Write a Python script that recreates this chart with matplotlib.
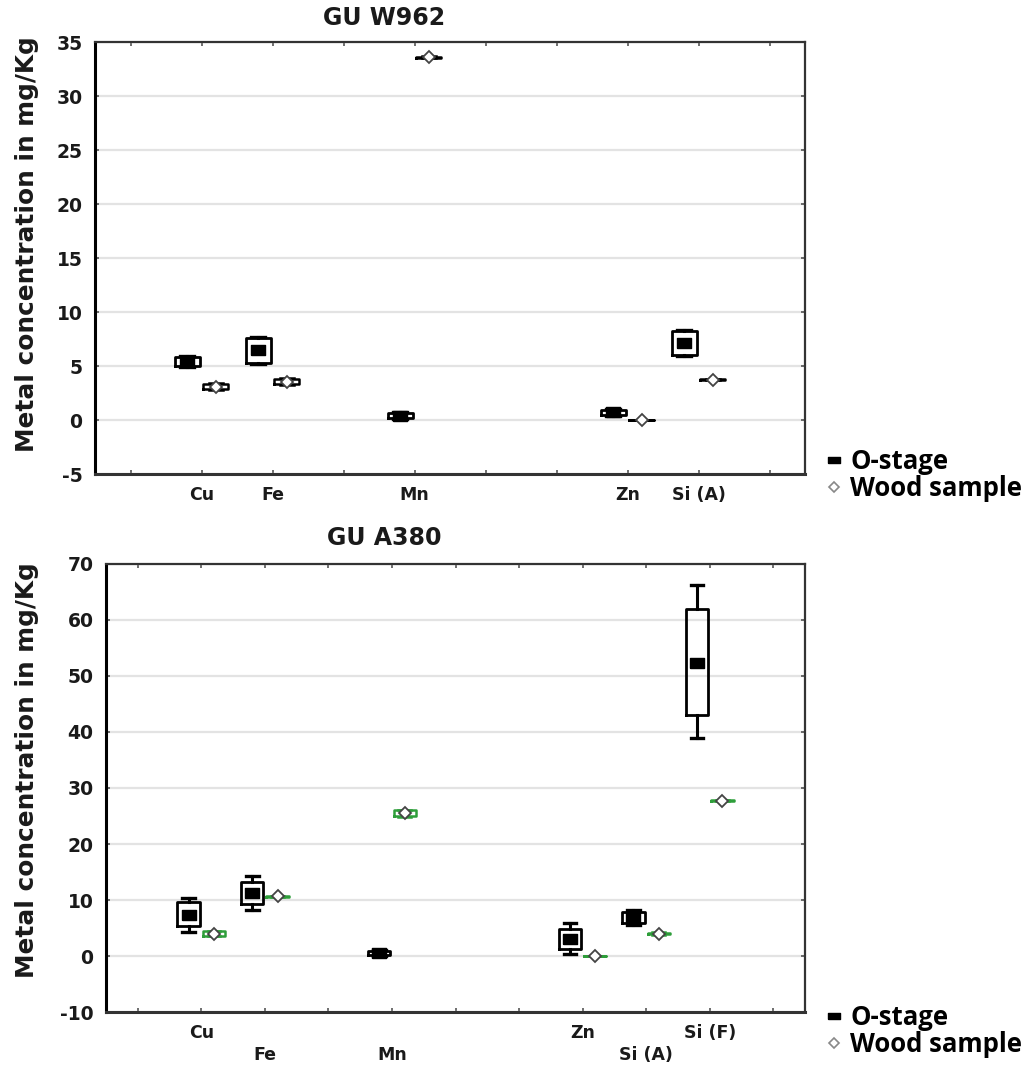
import matplotlib
matplotlib.use("Agg")
import matplotlib.pyplot as plt
from matplotlib.lines import Line2D

plt.rcParams["axes.unicode_minus"] = False

# ---------------- data ----------------
top_categories = ["Cu", "Fe", "Mn", "Zn", "Si (A)"]
top_slots = [1, 2, 4, 7, 8]
top_o_mean = [5.4, 6.5, 0.4, 0.7, 7.1]
top_o_q1 = [5.0, 5.3, 0.15, 0.45, 6.0]
top_o_q3 = [5.8, 7.6, 0.65, 0.95, 8.2]
top_o_lo = [4.9, 5.2, 0.05, 0.35, 5.9]
top_o_hi = [5.9, 7.7, 0.75, 1.05, 8.3]
top_w_mean = [3.1, 3.5, 33.6, 0.0, 3.75]
top_w_q1 = [2.85, 3.3, 33.55, -0.02, 3.72]
top_w_q3 = [3.35, 3.8, 33.65, 0.02, 3.78]
top_w_lo = [2.8, 3.25, 33.5, -0.03, 3.7]
top_w_hi = [3.4, 3.85, 33.7, 0.03, 3.8]

bot_categories = ["Cu", "Fe", "Mn", "Zn", "Si (A)", "Si (F)"]
bot_slots = [1, 2, 4, 7, 8, 9]
bot_label_row = [0, 1, 1, 0, 1, 0]
bot_o_mean = [7.3, 11.2, 0.5, 3.1, 6.9, 52.4]
bot_o_q1 = [5.3, 9.2, 0.1, 1.3, 5.9, 43.0]
bot_o_q3 = [9.6, 13.3, 0.9, 4.9, 7.9, 62.0]
bot_o_lo = [4.3, 8.2, 0.0, 0.4, 5.6, 39.0]
bot_o_hi = [10.4, 14.3, 1.0, 5.9, 8.2, 66.2]
bot_w_mean = [4.0, 10.7, 25.5, 0.0, 4.0, 27.7]
bot_w_q1 = [3.6, 10.62, 25.0, -0.05, 3.85, 27.62]
bot_w_q3 = [4.4, 10.78, 26.0, 0.05, 4.15, 27.78]
bot_w_lo = [3.5, 10.6, 24.9, -0.06, 3.8, 27.6]
bot_w_hi = [4.5, 10.8, 26.1, 0.06, 4.2, 27.8]

legend_labels = ["O-stage", "Wood sample"]

# ---------------- style ----------------
TXT = "#1a1a1a"
OFF = 0.2
BOXW = 0.35
rect_marker = [(-1, -0.62), (1, -0.62), (1, 0.62), (-1, 0.62), (-1, -0.62)]

fig = plt.figure(figsize=(10.35, 10.68), dpi=100)
W, H = 1035.0, 1068.0


def make_stats(mean, q1, q3, lo, hi):
    return [dict(med=m, q1=a, q3=b, whislo=l, whishi=h, fliers=[])
            for m, a, b, l, h in zip(mean, q1, q3, lo, hi)]


def panel(ax, nslots, ylim, yticks, slots, labels, o, w, wood_color, label_rows=None):
    ax.set_xlim(0, nslots)
    ax.set_ylim(*ylim)
    ax.set_yticks(yticks)
    ax.grid(axis="y", color="#e3e3e3", lw=1.6, zorder=0)
    ax.set_axisbelow(True)

    opos = [s + 0.5 - OFF for s in slots]
    wpos = [s + 0.5 + OFF for s in slots]

    ax.bxp(make_stats(*o), positions=opos, widths=BOXW, showfliers=False,
           capwidths=0.2, manage_ticks=False,
           boxprops=dict(color="black", lw=2.0),
           whiskerprops=dict(color="black", lw=2.2),
           capprops=dict(color="black", lw=2.4),
           medianprops=dict(color="none"))
    ax.bxp(make_stats(*w), positions=wpos, widths=BOXW, showfliers=False,
           capwidths=0.2, manage_ticks=False,
           boxprops=dict(color=wood_color, lw=1.8),
           whiskerprops=dict(color=wood_color, lw=1.8),
           capprops=dict(color=wood_color, lw=1.8),
           medianprops=dict(color="none"))
    ax.plot(opos, o[0], ls="none", marker=rect_marker, ms=10.5, color="black", zorder=5)
    ax.plot(wpos, w[0], ls="none", marker="D", ms=6.5, mfc="white", mec="#444444",
            mew=1.3, zorder=5)

    ticks = [i + 0.5 for i in range(nslots)]
    tlabels = [""] * nslots
    for k, (s, lab) in enumerate(zip(slots, labels)):
        if label_rows is not None and label_rows[k] == 1:
            tlabels[s] = "\n" + lab
        else:
            tlabels[s] = lab
    ax.set_xticks(ticks)
    ax.set_xticklabels(tlabels, fontsize=12.5, fontweight="bold", color=TXT,
                       family="DejaVu Sans", linespacing=1.25)
    for t in ax.get_yticklabels():
        t.set_fontweight("bold")
        t.set_fontsize(13.5)
        t.set_family("DejaVu Sans")
        t.set_color(TXT)
    ax.tick_params(axis="both", direction="in", length=3, width=1.2,
                   top=True, right=True, color="#555555")
    ax.tick_params(axis="x", pad=9)
    ax.tick_params(axis="y", pad=9)
    for sp in ax.spines.values():
        sp.set_color("#333333")
        sp.set_linewidth(1.6)
    ax.spines["left"].set_color("black")
    ax.spines["left"].set_linewidth(2.2)
    ax.spines["bottom"].set_linewidth(2.2)


# ---- top panel ----
ax1 = fig.add_axes([95 / W, 1 - 474 / H, 710 / W, 432 / H])
panel(ax1, 10, (-5, 35), list(range(-5, 36, 5)), top_slots, top_categories,
      (top_o_mean, top_o_q1, top_o_q3, top_o_lo, top_o_hi),
      (top_w_mean, top_w_q1, top_w_q3, top_w_lo, top_w_hi), "black")

# ---- bottom panel ----
ax2 = fig.add_axes([106 / W, 1 - 1012 / H, 699 / W, 448 / H])
panel(ax2, 11, (-10, 70), list(range(-10, 71, 10)), bot_slots, bot_categories,
      (bot_o_mean, bot_o_q1, bot_o_q3, bot_o_lo, bot_o_hi),
      (bot_w_mean, bot_w_q1, bot_w_q3, bot_w_lo, bot_w_hi), "#2e9e3a",
      label_rows=bot_label_row)

# titles
fig.text(384 / W, 1 - 18 / H, "GU W962", ha="center", va="center",
         fontsize=17, fontweight="bold", family="DejaVu Sans", color=TXT)
fig.text(384 / W, 1 - 538 / H, "GU A380", ha="center", va="center",
         fontsize=17, fontweight="bold", family="DejaVu Sans", color=TXT)

# y labels
fig.text(27 / W, 1 - 244 / H, "Metal concentration in mg/Kg", rotation=90,
         ha="center", va="center", fontsize=17.8, fontweight="bold",
         family="DejaVu Sans", color=TXT)
fig.text(27 / W, 1 - 770 / H, "Metal concentration in mg/Kg", rotation=90,
         ha="center", va="center", fontsize=17.8, fontweight="bold",
         family="DejaVu Sans", color=TXT)

# legends
handles = [Line2D([], [], ls="none", marker=rect_marker, ms=8, color="black"),
           Line2D([], [], ls="none", marker="D", ms=5, mfc="white", mec="#888888", mew=1.2)]
for ytop in (448, 1004):
    fig.legend(handles, legend_labels, loc="upper left",
               bbox_to_anchor=(826 / W, 1 - ytop / H), frameon=False,
               handlelength=0.6, handletextpad=0.35, labelspacing=0.0,
               borderpad=0, borderaxespad=0,
               prop=dict(family="Open Sans", weight="bold", size=18.5))

fig.savefig("out.png", dpi=100, facecolor="white")
